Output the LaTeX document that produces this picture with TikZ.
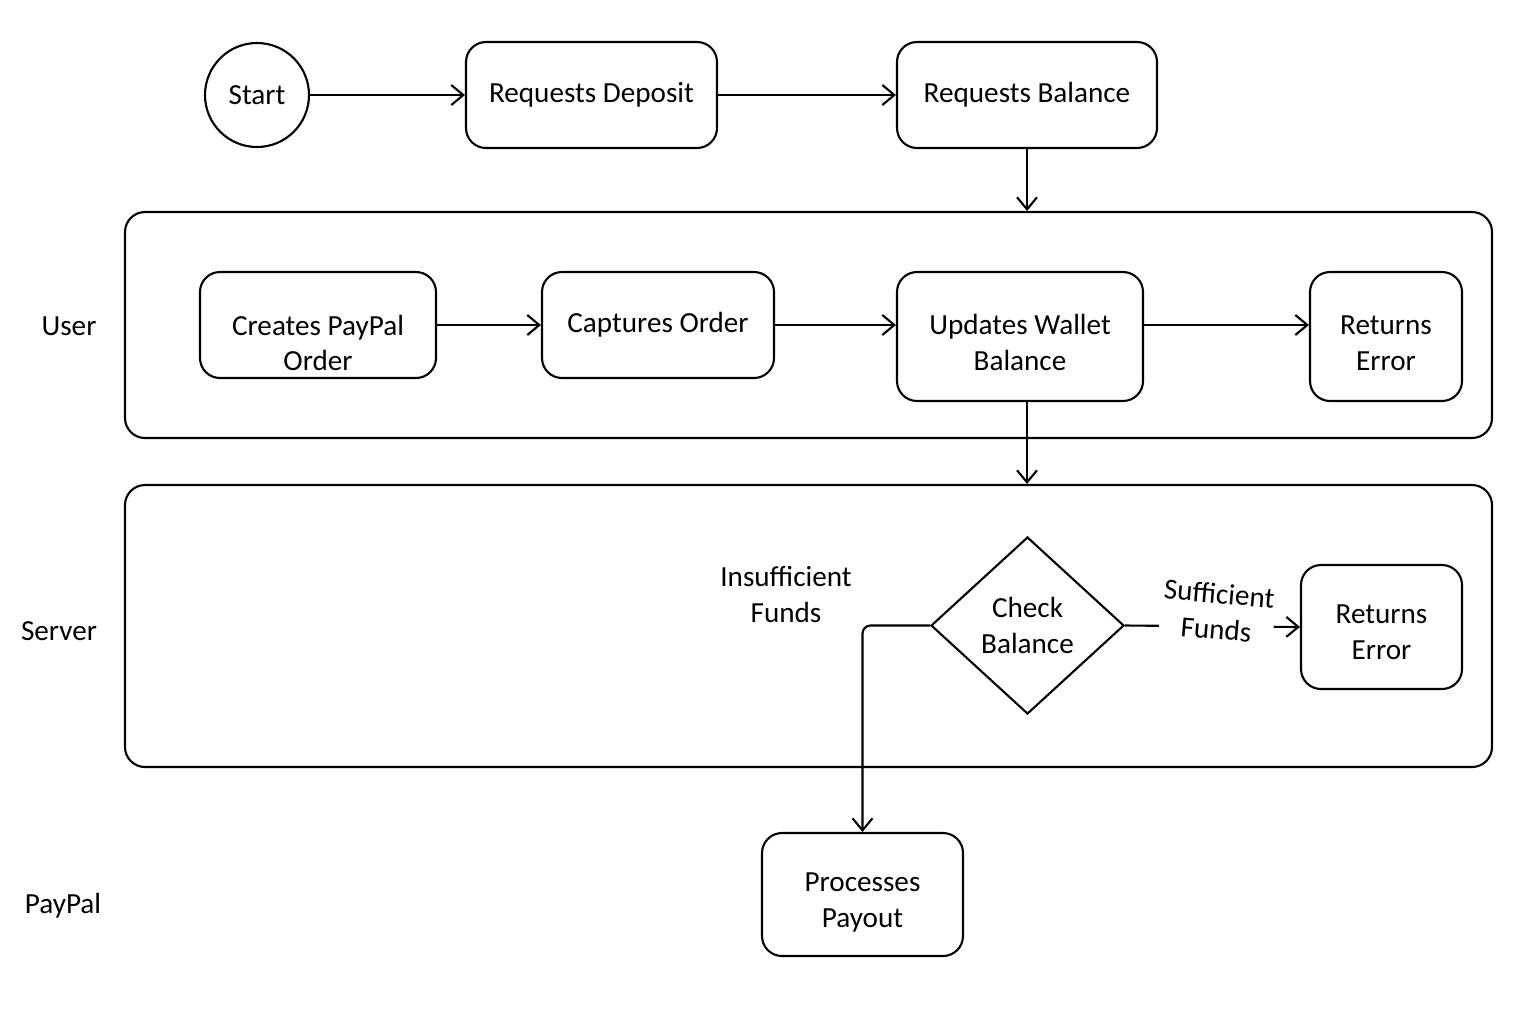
\documentclass[tikz,border=0pt]{standalone}
\usepackage{fontspec}
\setmainfont{Carlito}
\usetikzlibrary{arrows.meta,shapes.geometric}

\tikzset{
	txt/.style={font=\fontsize{8.3}{10.2}\selectfont, align=center},
	box/.style={txt, draw, line width=0.6pt, rounded corners=0.2cm, inner sep=0pt},
	lane/.style={draw, line width=0.6pt, rounded corners=0.2cm, inner sep=0pt},
	flow/.style={line width=0.6pt, -{Straight Barb[length=1.2mm,width=2mm]}},
	lowtext/.style 2 args={label={[txt, yshift=#1]center:#2}},
}

\begin{document}
\begin{tikzpicture}
	\useasboundingbox (0,0) rectangle (15.36,-10.24);

	% lanes
	\node [lane, minimum width=13.67cm, minimum height=2.26cm] (userlane) at (8.085,-3.25) {};
	\node [lane, minimum width=13.67cm, minimum height=2.82cm] (serverlane) at (8.085,-6.26) {};

	\node [txt] (user) at (0.69,-3.26) {User};
	\node [txt] (server) at (0.59,-6.31) {Server};
	\node [txt] (paypal) at (0.63,-9.06) {PayPal};

	% top row
	\node [box, circle, rounded corners=0pt, minimum size=1.04cm] (start) at (2.57,-0.95) {Start};
	\node [box, minimum width=2.51cm, minimum height=1.06cm] (deposit) at (5.915,-0.95) {\raisebox{-0.5pt}{Requests Deposit}};
	\node [box, minimum width=2.60cm, minimum height=1.06cm] (balance) at (10.27,-0.95) {\raisebox{-0.5pt}{Requests Balance}};

	% user
	\node [box, minimum width=2.36cm, minimum height=1.06cm, lowtext={-0.18cm}{Creates PayPal\\Order}] (creates) at (3.18,-3.25) {};
	\node [box, minimum width=2.32cm, minimum height=1.06cm] (captures) at (6.58,-3.25) {Captures Order};
	\node [box, minimum width=2.46cm, minimum height=1.29cm, lowtext={-0.06cm}{Updates Wallet\\Balance}] (updates) at (10.20,-3.365) {};
	\node [box, minimum width=1.52cm, minimum height=1.29cm, lowtext={-0.07cm}{Returns\\Error}] (errorA) at (13.86,-3.365) {};

	% server
	\node [box, diamond, rounded corners=0pt, minimum width=1.93cm, minimum height=1.77cm] (check) at (10.275,-6.255) {Check\\Balance};
	\node [box, minimum width=1.61cm, minimum height=1.24cm, lowtext={-0.05cm}{Returns\\Error}] (errorB) at (13.815,-6.27) {};
	\node [txt] (insufficient) at (7.86,-5.945) {Insufficient\\Funds};

	% paypal
	\node [box, minimum width=2.01cm, minimum height=1.23cm, lowtext={-0.08cm}{Processes\\Payout}] (payout) at (8.625,-8.945) {};

	\draw [flow] (start) -- (deposit);
	\draw [flow] (deposit) -- (balance);
	\draw [flow] (balance.south) -- (balance.south |- userlane.north);

	\draw [flow] (creates) -- (captures);
	\draw [flow] (captures) -- (captures.east -| updates.west);
	\draw [flow] (captures.east -| updates.east) -- (captures.east -| errorA.west);
	\draw [flow] (balance.south |- updates.south) -- (balance.south |- serverlane.north);

	\draw [flow, rounded corners=0.08cm] (check.west) -| (payout.north);
	\draw [flow] (check.east) -- node [txt, pos=0.53, yshift=0.15cm, fill=white, inner sep=0.5pt, rotate=-5] (sufficient) {Sufficient\\Funds} (errorB.west);
\end{tikzpicture}
\end{document}
